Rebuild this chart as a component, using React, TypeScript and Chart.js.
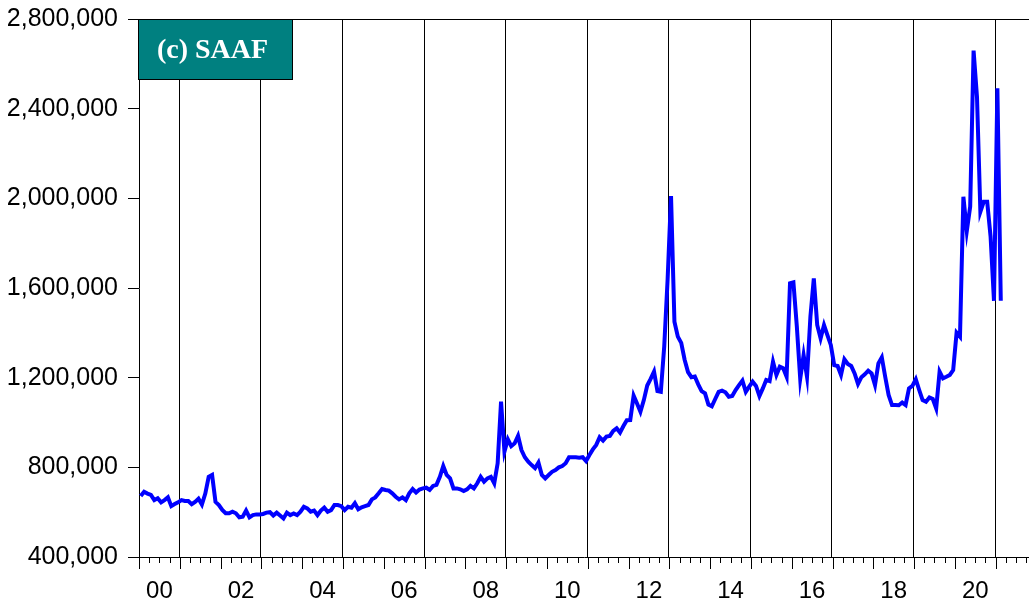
import React, { useEffect, useRef } from 'react';
import { Chart, registerables } from 'chart.js';

Chart.register(...registerables);

// Monthly series, starting January 2000
const START_YEAR = 2000;
const saafMonthly: number[] = [
  // 2000
  672000, 691000, 683000, 677000, 654000, 662000, 644000, 654000, 666000, 627000, 636000, 644000,
  // 2001
  654000, 650000, 650000, 636000, 646000, 660000, 634000, 683000, 758000, 766000, 646000, 632000,
  // 2002
  610000, 595000, 595000, 602000, 595000, 577000, 580000, 607000, 577000, 587000, 590000, 590000,
  // 2003
  592000, 598000, 600000, 585000, 598000, 585000, 572000, 598000, 587000, 594000, 587000, 602000,
  // 2004
  624000, 617000, 602000, 607000, 587000, 607000, 620000, 602000, 609000, 632000, 632000, 627000,
  // 2005
  609000, 624000, 620000, 640000, 613000, 622000, 627000, 632000, 657000, 666000, 684000, 703000,
  // 2006
  699000, 696000, 684000, 669000, 657000, 666000, 654000, 684000, 703000, 688000, 701000, 706000,
  // 2007
  709000, 699000, 717000, 722000, 758000, 806000, 766000, 751000, 706000, 706000, 702000, 694000,
  // 2008
  702000, 717000, 706000, 729000, 758000, 736000, 751000, 758000, 729000, 818000, 1093000, 870000,
  // 2009
  925000, 895000, 907000, 940000, 877000, 845000, 825000, 810000, 796000, 821000, 766000, 751000,
  // 2010
  766000, 780000, 788000, 800000, 806000, 818000, 845000, 845000, 845000, 843000, 845000, 828000,
  // 2011
  855000, 880000, 900000, 934000, 919000, 937000, 940000, 963000, 974000, 955000, 984000, 1010000,
  // 2012
  1011000, 1120000, 1085000, 1048000, 1100000, 1165000, 1195000, 1227000, 1140000, 1137000, 1340000, 1640000,
  // 2013
  2010000, 1450000, 1383000, 1355000, 1280000, 1225000, 1202000, 1205000, 1170000, 1140000, 1130000, 1080000,
  // 2014
  1072000, 1105000, 1137000, 1142000, 1135000, 1115000, 1118000, 1145000, 1167000, 1187000, 1137000, 1160000,
  // 2015
  1182000, 1163000, 1118000, 1152000, 1190000, 1185000, 1271000, 1212000, 1249000, 1242000, 1204000, 1621000,
  // 2016
  1625000, 1430000, 1195000, 1301000, 1204000, 1472000, 1643000, 1435000, 1375000, 1435000, 1390000, 1346000,
  // 2017
  1256000, 1252000, 1212000, 1282000, 1261000, 1252000, 1219000, 1172000, 1202000, 1215000, 1231000, 1219000,
  // 2018
  1167000, 1264000, 1291000, 1204000, 1123000, 1078000, 1078000, 1077000, 1089000, 1078000, 1152000, 1163000,
  // 2019
  1193000, 1145000, 1100000, 1093000, 1112000, 1105000, 1063000, 1227000, 1197000, 1204000, 1212000, 1234000,
  // 2020
  1401000, 1383000, 2007000, 1854000, 1963000, 2659000, 2453000, 1940000, 1985000, 1985000, 1829000, 1543000,
  // 2021
  2491000, 1543000,
];

const yTickValues = [400000, 800000, 1200000, 1600000, 2000000, 2400000, 2800000];
const xLabelYears = [2000, 2002, 2004, 2006, 2008, 2010, 2012, 2014, 2016, 2018, 2020];
const gridYears = [2001, 2003, 2005, 2007, 2009, 2011, 2013, 2015, 2017, 2019, 2021];
const AXIS_END_MONTHS = 261.8; // visible part of the time axis, months after Jan 2000
const TITLE = '(c) SAAF';

const FONT = 'Liberation Sans';

export default function App() {
  const ref = useRef<HTMLCanvasElement>(null);

  useEffect(() => {
    document.body.style.margin = '0';
    const canvas = ref.current;
    if (!canvas) return;

    const points = saafMonthly.map((v, i) => ({ x: i + 0.5, y: v }));

    const framePlugin = {
      id: 'eviewsFrame',
      beforeDatasetsDraw(chart: any) {
        const { ctx, chartArea: a, scales } = chart;
        const xs = scales.x;
        ctx.save();
        ctx.strokeStyle = '#000';
        ctx.lineWidth = 1;
        gridYears.forEach((yr) => {
          const px = Math.round(xs.getPixelForValue((yr - START_YEAR) * 12 - 0.3)) + 0.5;
          ctx.beginPath();
          ctx.moveTo(px, a.top);
          ctx.lineTo(px, a.bottom);
          ctx.stroke();
        });
        for (let m = 0; m <= AXIS_END_MONTHS; m += 3) {
          const px = Math.round(xs.getPixelForValue(m)) + 0.5;
          const len = m % 12 === 0 ? 12 : 6;
          ctx.beginPath();
          ctx.moveTo(px, a.bottom);
          ctx.lineTo(px, a.bottom + len);
          ctx.stroke();
        }
        ctx.beginPath();
        ctx.moveTo(a.left, Math.round(a.top) + 0.5);
        ctx.lineTo(a.right, Math.round(a.top) + 0.5);
        ctx.stroke();
        ctx.restore();
      },
      afterDraw(chart: any) {
        const { ctx, chartArea: a } = chart;
        const bx = Math.round(a.left) - 1 + 0.5;
        const by = Math.round(a.top) + 0.5;
        const bw = 154;
        const bh = 60;
        ctx.save();
        ctx.fillStyle = '#008080';
        ctx.fillRect(bx, by, bw, bh);
        ctx.strokeStyle = '#000';
        ctx.lineWidth = 1;
        ctx.strokeRect(bx, by, bw, bh);
        ctx.fillStyle = '#ffffff';
        ctx.font = 'bold 28px "Liberation Serif"';
        ctx.textAlign = 'center';
        ctx.textBaseline = 'middle';
        ctx.fillText(TITLE, bx + bw / 2 - 3, by + bh / 2 + 1);
        ctx.restore();
      },
    };

    const chart = new Chart(canvas, {
      type: 'line',
      data: {
        datasets: [
          {
            label: 'SAAF',
            data: points,
            borderColor: '#0000FF',
            borderWidth: 4,
            pointRadius: 0,
            tension: 0,
            fill: false,
          },
        ],
      },
      options: {
        responsive: false,
        animation: false,
        layout: { padding: { top: 19, left: 0, right: 0, bottom: 0 } },
        plugins: {
          legend: { display: false },
          tooltip: { enabled: false },
          title: { display: false },
        },
        scales: {
          x: {
            type: 'linear',
            min: 0,
            max: AXIS_END_MONTHS,
            afterBuildTicks: (s: any) => {
              s.ticks = xLabelYears.map((y) => ({ value: (y - START_YEAR) * 12 + 6 }));
            },
            afterFit: (s: any) => {
              s.height = 48;
              s.paddingLeft = 0;
              s.paddingRight = 0;
            },
            grid: { display: false, drawTicks: false },
            border: { display: true, color: '#000', width: 1 },
            ticks: {
              autoSkip: false,
              maxRotation: 0,
              padding: 20,
              color: '#000',
              font: { family: FONT, size: 24 },
              callback: (v: any) => String(START_YEAR + Math.round((Number(v) - 6) / 12)).slice(2),
            },
          },
          y: {
            type: 'linear',
            min: 400000,
            max: 2800000,
            afterBuildTicks: (s: any) => {
              s.ticks = yTickValues.map((v) => ({ value: v }));
            },
            afterFit: (s: any) => {
              s.width = 139;
              s.paddingTop = 0;
              s.paddingBottom = 0;
            },
            grid: { drawOnChartArea: false, drawTicks: true, tickLength: 11, color: '#000' },
            border: { display: true, color: '#000', width: 1 },
            ticks: {
              padding: 10,
              color: '#000',
              font: { family: FONT, size: 25 },
              callback: (v: any) => Number(v).toLocaleString('en-US'),
            },
          },
        },
      },
      plugins: [framePlugin],
    } as any);

    return () => chart.destroy();
  }, []);

  return (
    <div style={{ width: 1029, height: 605, background: '#fff' }}>
      <canvas ref={ref} width={1029} height={605} style={{ display: 'block' }} />
    </div>
  );
}
